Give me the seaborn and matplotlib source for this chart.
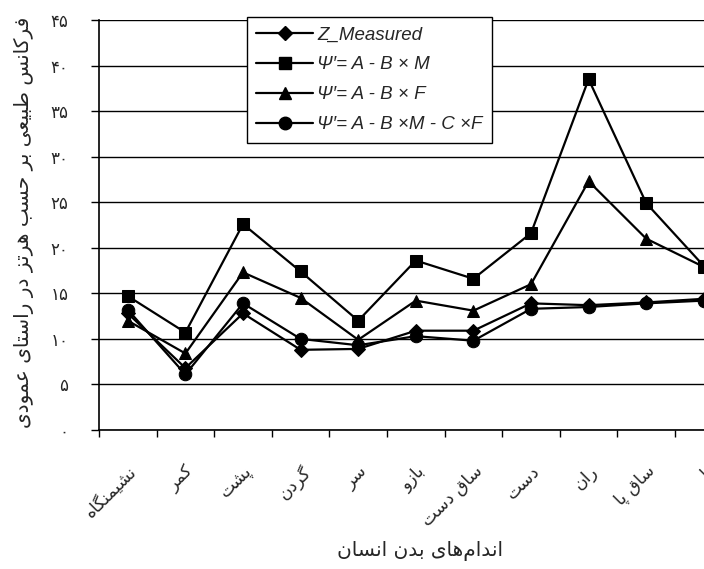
import pandas as pd
import seaborn as sns
import matplotlib
matplotlib.use("Agg")
import matplotlib.pyplot as plt
from matplotlib.lines import Line2D

# chart data
categories = ['نشیمنگاه', 'کمر', 'پشت', 'گردن', 'سر', 'بازو', 'ساق دست', 'دست', 'ران', 'ساق پا', 'پا']
z_measured = [12.8, 6.8, 12.8, 8.8, 8.9, 10.9, 10.9, 13.9, 13.7, 14.0, 14.4]
psi_m = [14.7, 10.7, 22.6, 17.4, 12.0, 18.6, 16.6, 21.6, 38.5, 24.9, 18.0]
psi_f = [12.0, 8.4, 17.3, 14.5, 9.9, 14.2, 13.1, 16.0, 27.3, 21.0, 17.9]
psi_mf = [13.2, 6.1, 13.9, 10.0, 9.3, 10.3, 9.8, 13.3, 13.5, 13.9, 14.2]
series_names = ['Z_Measured', 'Ψ′= A - B × M', 'Ψ′= A - B × F', 'Ψ′= A - B ×M - C ×F']
y_ticks = list(range(0, 50, 5))
y_label = 'فرکانس طبیعی بر حسب هرتز در راستای عمودی'
x_label = 'اندام\u200cهای بدن انسان'

# --- minimal Persian shaping (matplotlib has no bidi / joining support) ---
FORMS = {
    'ا': ('\uFE8D', '\uFE8E', None, None),
    'ب': ('\uFE8F', '\uFE90', '\uFE91', '\uFE92'),
    'پ': ('\uFB56', '\uFB57', '\uFB58', '\uFB59'),
    'ت': ('\uFE95', '\uFE96', '\uFE97', '\uFE98'),
    'ح': ('\uFEA1', '\uFEA2', '\uFEA3', '\uFEA4'),
    'د': ('\uFEA9', '\uFEAA', None, None),
    'ر': ('\uFEAD', '\uFEAE', None, None),
    'ز': ('\uFEAF', '\uFEB0', None, None),
    'س': ('\uFEB1', '\uFEB2', '\uFEB3', '\uFEB4'),
    'ش': ('\uFEB5', '\uFEB6', '\uFEB7', '\uFEB8'),
    'ط': ('\uFEC1', '\uFEC2', '\uFEC3', '\uFEC4'),
    'ع': ('\uFEC9', '\uFECA', '\uFECB', '\uFECC'),
    'ف': ('\uFED1', '\uFED2', '\uFED3', '\uFED4'),
    'ق': ('\uFED5', '\uFED6', '\uFED7', '\uFED8'),
    'ک': ('\uFB8E', '\uFB8F', '\uFB90', '\uFB91'),
    'گ': ('\uFB92', '\uFB93', '\uFB94', '\uFB95'),
    'ل': ('\uFEDD', '\uFEDE', '\uFEDF', '\uFEE0'),
    'م': ('\uFEE1', '\uFEE2', '\uFEE3', '\uFEE4'),
    'ن': ('\uFEE5', '\uFEE6', '\uFEE7', '\uFEE8'),
    'ه': ('\uFEE9', '\uFEEA', '\uFEEB', '\uFEEC'),
    'و': ('\uFEED', '\uFEEE', None, None),
    'ی': ('\uFBFC', '\uFBFD', '\uFBFE', '\uFBFF'),
}


def fa(text):
    chars = list(text)
    out = []
    for i, c in enumerate(chars):
        if c not in FORMS:
            if c != '\u200c':
                out.append(c)
            continue
        prev = chars[i - 1] if i > 0 else None
        nxt = chars[i + 1] if i + 1 < len(chars) else None
        join_prev = prev in FORMS and FORMS[prev][2] is not None
        join_next = nxt in FORMS and FORMS[c][2] is not None
        iso, fin, ini, med = FORMS[c]
        if join_prev and join_next:
            out.append(med)
        elif join_prev:
            out.append(fin)
        elif join_next:
            out.append(ini)
        else:
            out.append(iso)
    return ''.join(reversed(out))


def fa_digits(n):
    return ''.join(chr(0x06F0 + int(d)) for d in str(n))


sns.set_style('white')
plt.rcParams['font.family'] = ['DejaVu Sans']

rows = []
for name, vals in zip(series_names, [z_measured, psi_m, psi_f, psi_mf]):
    for i, v in enumerate(vals):
        rows.append({'pos': i, 'value': v, 'series': name})
df = pd.DataFrame(rows)

markers = dict(zip(series_names, ['D', 's', '^', 'o']))
msizes = dict(zip(series_names, [7, 9, 9, 9]))

fig = plt.figure(figsize=(7.04, 5.69), dpi=100)
ax = fig.add_axes([99 / 704, 139 / 569, 633.6 / 704, 410 / 569])

for name in series_names:
    sns.lineplot(data=df[df['series'] == name], x='pos', y='value', ax=ax,
                 color='black', linewidth=1.6, marker=markers[name],
                 markersize=msizes[name], markeredgecolor='black', legend=False)

ax.set_xlim(-0.5, len(categories) - 0.5)
ax.set_ylim(0, 45)
ax.set_yticks(y_ticks)
ax.set_yticklabels([fa_digits(t) for t in y_ticks], fontsize=12)
ax.yaxis.grid(True, color='black', linewidth=1)
ax.xaxis.grid(False)
ax.set_axisbelow(True)
ax.tick_params(axis='y', direction='out', length=6, width=1, color='black', pad=16, left=True)

ax.set_xticks(range(len(categories)))
ax.set_xticklabels([fa(c) for c in categories], rotation=45, ha='right',
                   rotation_mode='anchor', fontsize=12.5)
ax.set_xticks([i - 0.5 for i in range(len(categories) + 1)], minor=True)
ax.tick_params(axis='x', which='major', length=0, pad=23)
ax.tick_params(axis='x', which='minor', direction='out', length=5, width=1,
               color='black', bottom=True)

for side in ['top', 'right']:
    ax.spines[side].set_visible(False)
for side in ['left', 'bottom']:
    ax.spines[side].set_color('black')
    ax.spines[side].set_linewidth(1.2)
ax.set_xlabel('')
ax.set_ylabel('')

fig.text(24 / 704, 1 - 222 / 569, fa(y_label), rotation=90, ha='center', va='center', fontsize=14.5)
fig.text(420 / 704, 1 - 551 / 569, fa(x_label), ha='center', va='center', fontsize=14.5)

handles = [Line2D([0], [0], color='black', linewidth=1.6, marker=markers[n],
                  markersize=msizes[n]) for n in series_names]
leg = ax.legend(handles, series_names, loc='upper left',
                bbox_to_anchor=((247 - 99) / 633.6, (430 - 17) / 410),
                borderaxespad=0, frameon=True, fancybox=False, framealpha=1, edgecolor='black',
                handlelength=3.0, handletextpad=0.25, labelspacing=0.68, borderpad=0.5,
                prop={'family': ['Liberation Sans', 'DejaVu Sans'], 'style': 'italic', 'size': 13.5})
leg.get_frame().set_linewidth(1)

fig.savefig('out.png', dpi=100)
